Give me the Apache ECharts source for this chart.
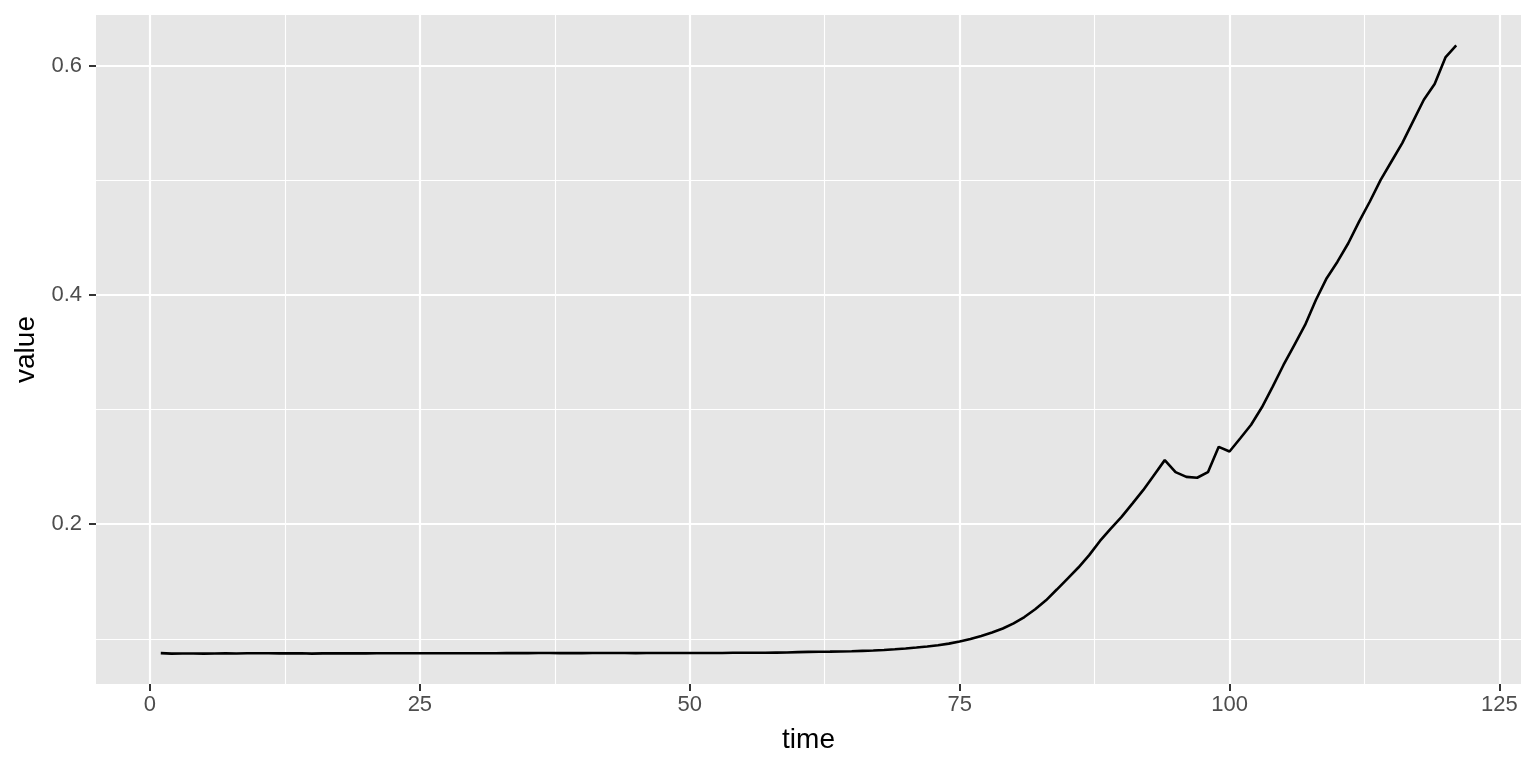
<!DOCTYPE html>
<html>
<head>
<meta charset="utf-8">
<script src="https://cdn.jsdelivr.net/npm/echarts@6/dist/echarts.min.js"></script>
<style>
html,body{margin:0;padding:0;background:#fff;}
#chart{width:1536px;height:768px;}
</style>
</head>
<body>
<div id="chart"></div>
<script>
// time points (x)
const times = [1,2,3,4,5,6,7,8,9,10,11,12,13,14,15,16,17,18,19,20,
21,22,23,24,25,26,27,28,29,30,31,32,33,34,35,36,37,38,39,40,
41,42,43,44,45,46,47,48,49,50,51,52,53,54,55,56,57,58,59,60,
61,62,63,64,65,66,67,68,69,70,71,72,73,74,75,76,77,78,79,80,
81,82,83,84,85,86,87,88,89,90,91,92,93,94,95,96,97,98,99,100,
101,102,103,104,105,106,107,108,109,110,111,112,113,114,115,116,117,118,119,120,121];
// series values (y)
const values = [
0.0875,0.0871,0.0872,0.0872,0.0871,0.0872,0.0873,0.0872,0.0874,0.0874,
0.0874,0.0873,0.0873,0.0874,0.0871,0.0873,0.0873,0.0873,0.0874,0.0873,
0.0874,0.0874,0.0874,0.0874,0.0874,0.0874,0.0874,0.0874,0.0874,0.0874,
0.0874,0.0874,0.0875,0.0875,0.0875,0.0876,0.0876,0.0875,0.0876,0.0875,
0.0876,0.0876,0.0876,0.0876,0.0875,0.0876,0.0877,0.0877,0.0877,0.0877,
0.0877,0.0877,0.0877,0.0878,0.0878,0.0879,0.0879,0.0880,0.0881,0.0884,
0.0886,0.0887,0.0888,0.0890,0.0892,0.0895,0.0898,0.0903,0.0909,0.0916,
0.0924,0.0933,0.0944,0.0958,0.0976,0.0998,0.1025,0.1055,0.1090,0.1135,
0.1190,0.1258,0.1336,0.1430,0.1526,0.1622,0.1730,0.1854,0.1962,0.2064,
0.2180,0.2297,0.2428,0.2559,0.2454,0.2413,0.2405,0.2454,0.2675,0.2634,
0.2750,0.2868,0.3020,0.3200,0.3389,0.3563,0.3738,0.3956,0.4146,0.4290,
0.4451,0.4640,0.4815,0.5004,0.5164,0.5325,0.5514,0.5703,0.5840,0.6072,0.6177];
// tick labels / break positions
const xMajor = [0, 25, 50, 75, 100, 125];
const xMinor = [12.5, 37.5, 62.5, 87.5, 112.5];
const yMajor = [0.2, 0.4, 0.6];
const yMinor = [0.1, 0.3, 0.5];

const xMin = -5, xMax = 127, yMin = 0.0606, yMax = 0.6442;
const FONT = 'Liberation Sans, Arial, Helvetica, sans-serif';

const chart = echarts.init(document.getElementById('chart'), null, {renderer: 'canvas'});
const data = times.map((t, i) => [t, values[i]]);

chart.setOption({
  animation: false,
  backgroundColor: '#ffffff',
  grid: {left: 96, right: 15, top: 15, bottom: 84, show: true, backgroundColor: '#E6E6E6', borderWidth: 0},
  xAxis: [{
    type: 'value', min: xMin, max: xMax,
    name: 'time', nameLocation: 'middle', nameGap: 42,
    nameTextStyle: {color: '#000', fontSize: 28, fontFamily: FONT},
    axisLine: {show: false, onZero: false},
    axisTick: {show: true, length: 7, lineStyle: {color: '#333333', width: 2}, customValues: xMajor},
    axisLabel: {color: '#4D4D4D', fontSize: 22, fontFamily: FONT, margin: 10, customValues: xMajor},
    splitLine: {show: true, lineStyle: {color: '#FFFFFF', width: 2.2}}
  }, {
    type: 'value', min: xMin, max: xMax, position: 'bottom',
    axisLine: {show: false, onZero: false},
    axisTick: {show: false, customValues: xMinor},
    axisLabel: {show: false, customValues: xMinor},
    splitLine: {show: true, lineStyle: {color: '#FFFFFF', width: 1.1}}
  }],
  yAxis: [{
    type: 'value', min: yMin, max: yMax,
    name: 'value', nameLocation: 'middle', nameGap: 54,
    nameTextStyle: {color: '#000', fontSize: 28, fontFamily: FONT},
    axisLine: {show: false, onZero: false},
    axisTick: {show: true, length: 7, lineStyle: {color: '#333333', width: 2}, customValues: yMajor},
    axisLabel: {color: '#4D4D4D', fontSize: 22, fontFamily: FONT, margin: 14, customValues: yMajor,
      formatter: v => v.toFixed(1)},
    splitLine: {show: true, lineStyle: {color: '#FFFFFF', width: 2.2}}
  }, {
    type: 'value', min: yMin, max: yMax, position: 'left',
    axisLine: {show: false, onZero: false},
    axisTick: {show: false, customValues: yMinor},
    axisLabel: {show: false, customValues: yMinor},
    splitLine: {show: true, lineStyle: {color: '#FFFFFF', width: 1.1}}
  }],
  series: [{
    type: 'line', data: data, xAxisIndex: 0, yAxisIndex: 0,
    showSymbol: false, symbol: 'none', smooth: false,
    lineStyle: {color: '#000000', width: 2.6},
    z: 5
  }]
});
</script>
</body>
</html>
